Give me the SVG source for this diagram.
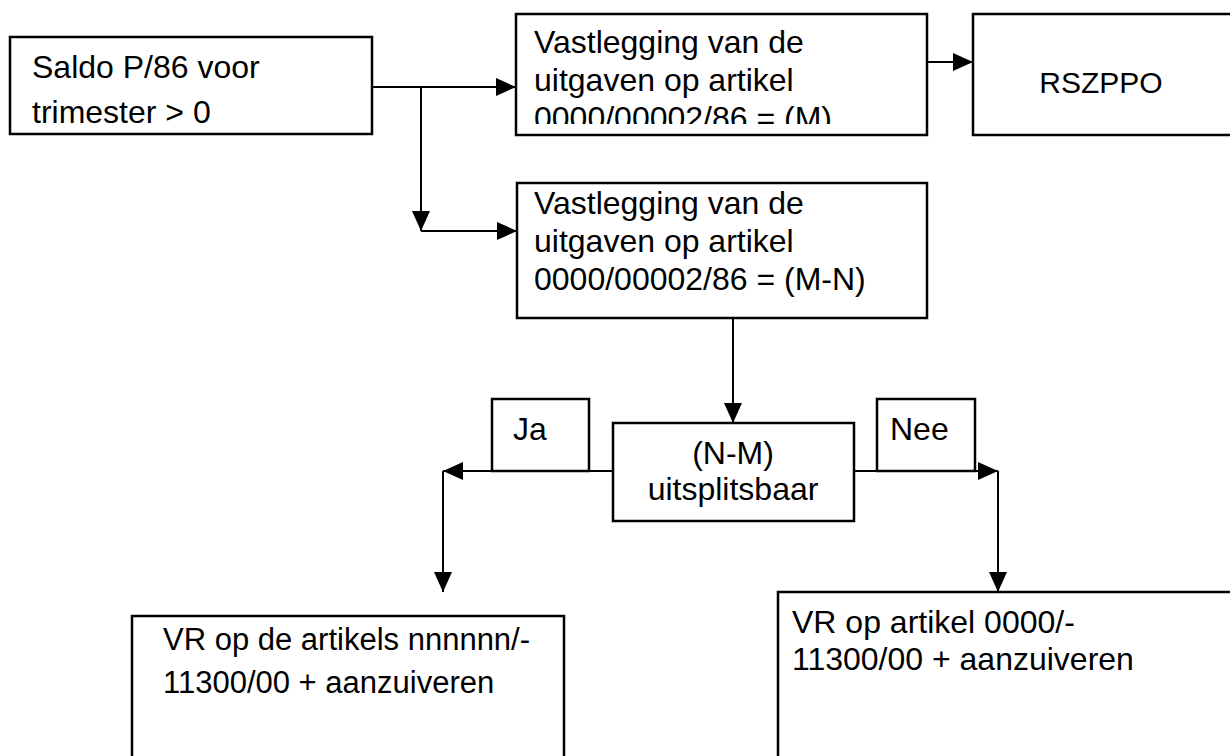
<svg xmlns="http://www.w3.org/2000/svg" width="1230" height="756" viewBox="0 0 1230 756">
<style>
.box{fill:#fff;stroke:#000;stroke-width:2.5}
.t{font-family:"Liberation Sans",Arial,sans-serif;font-size:32px;fill:#000}
.c{fill:none;stroke:#000;stroke-width:2}
</style>
<defs>
<marker id="ah" markerUnits="userSpaceOnUse" markerWidth="20" markerHeight="18" refX="20" refY="9" orient="auto">
<path d="M0,0 L20,9 L0,18 Z" fill="#000"/>
</marker>
<clipPath id="clip2"><rect x="516" y="14" width="411" height="110"/></clipPath>
</defs>
<rect width="1230" height="756" fill="#fff"/>
<g id="connectors">
<path class="c" d="M372,87 H516" marker-end="url(#ah)"/>
<path class="c" d="M421,87 V231" marker-end="url(#ah)"/>
<path class="c" d="M421,231 H517" marker-end="url(#ah)"/>
<path class="c" d="M927,62 H973" marker-end="url(#ah)"/>
<path class="c" d="M733,318 V423" marker-end="url(#ah)"/>
<path class="c" d="M613,471 H443" marker-end="url(#ah)"/>
<path class="c" d="M443,471 V592" marker-end="url(#ah)"/>
<path class="c" d="M854,471 H998" marker-end="url(#ah)"/>
<path class="c" d="M998,471 V592" marker-end="url(#ah)"/>
</g>
<g id="n-saldo">
<rect class="box" x="10" y="37" width="362" height="97"/>
<text class="t" x="32" y="78">Saldo P/86 voor</text>
<text class="t" x="32" y="123">trimester &gt; 0</text>
</g>
<g id="n-vast-m">
<rect class="box" x="516" y="14" width="411" height="121"/>
<g clip-path="url(#clip2)">
<text class="t" x="534" y="53">Vastlegging van de</text>
<text class="t" x="534" y="91">uitgaven op artikel</text>
<text class="t" x="534" y="129">0000/00002/86 = (M)</text>
</g>
</g>
<g id="n-rszppo">
<rect class="box" x="973" y="14" width="262" height="121"/>
<text class="t" x="1101" y="93" text-anchor="middle" style="font-size:30px">RSZPPO</text>
</g>
<g id="n-vast-mn">
<rect class="box" x="517" y="183" width="410" height="135"/>
<text class="t" x="534" y="214">Vastlegging van de</text>
<text class="t" x="534" y="252">uitgaven op artikel</text>
<text class="t" x="534" y="290">0000/00002/86 = (M-N)</text>
</g>
<g id="n-ja">
<rect class="box" x="492" y="399" width="97" height="72"/>
<text class="t" x="513" y="440">Ja</text>
</g>
<g id="n-nee">
<rect class="box" x="877" y="399" width="98" height="72"/>
<text class="t" x="890" y="440">Nee</text>
</g>
<g id="n-split">
<rect class="box" x="613" y="423" width="241" height="98"/>
<text class="t" x="733" y="464" text-anchor="middle">(N-M)</text>
<text class="t" x="733" y="500" text-anchor="middle">uitsplitsbaar</text>
</g>
<g id="n-vr-ja">
<rect class="box" x="132" y="616" width="432" height="150"/>
<text class="t" x="163" y="650" style="font-size:31px">VR op de artikels nnnnnn/-</text>
<text class="t" x="163" y="693" style="font-size:31px">11300/00 + aanzuiveren</text>
</g>
<g id="n-vr-nee">
<rect class="box" x="778" y="592" width="460" height="174"/>
<text class="t" x="792" y="633">VR op artikel 0000/-</text>
<text class="t" x="792" y="670">11300/00 + aanzuiveren</text>
</g>
</svg>
